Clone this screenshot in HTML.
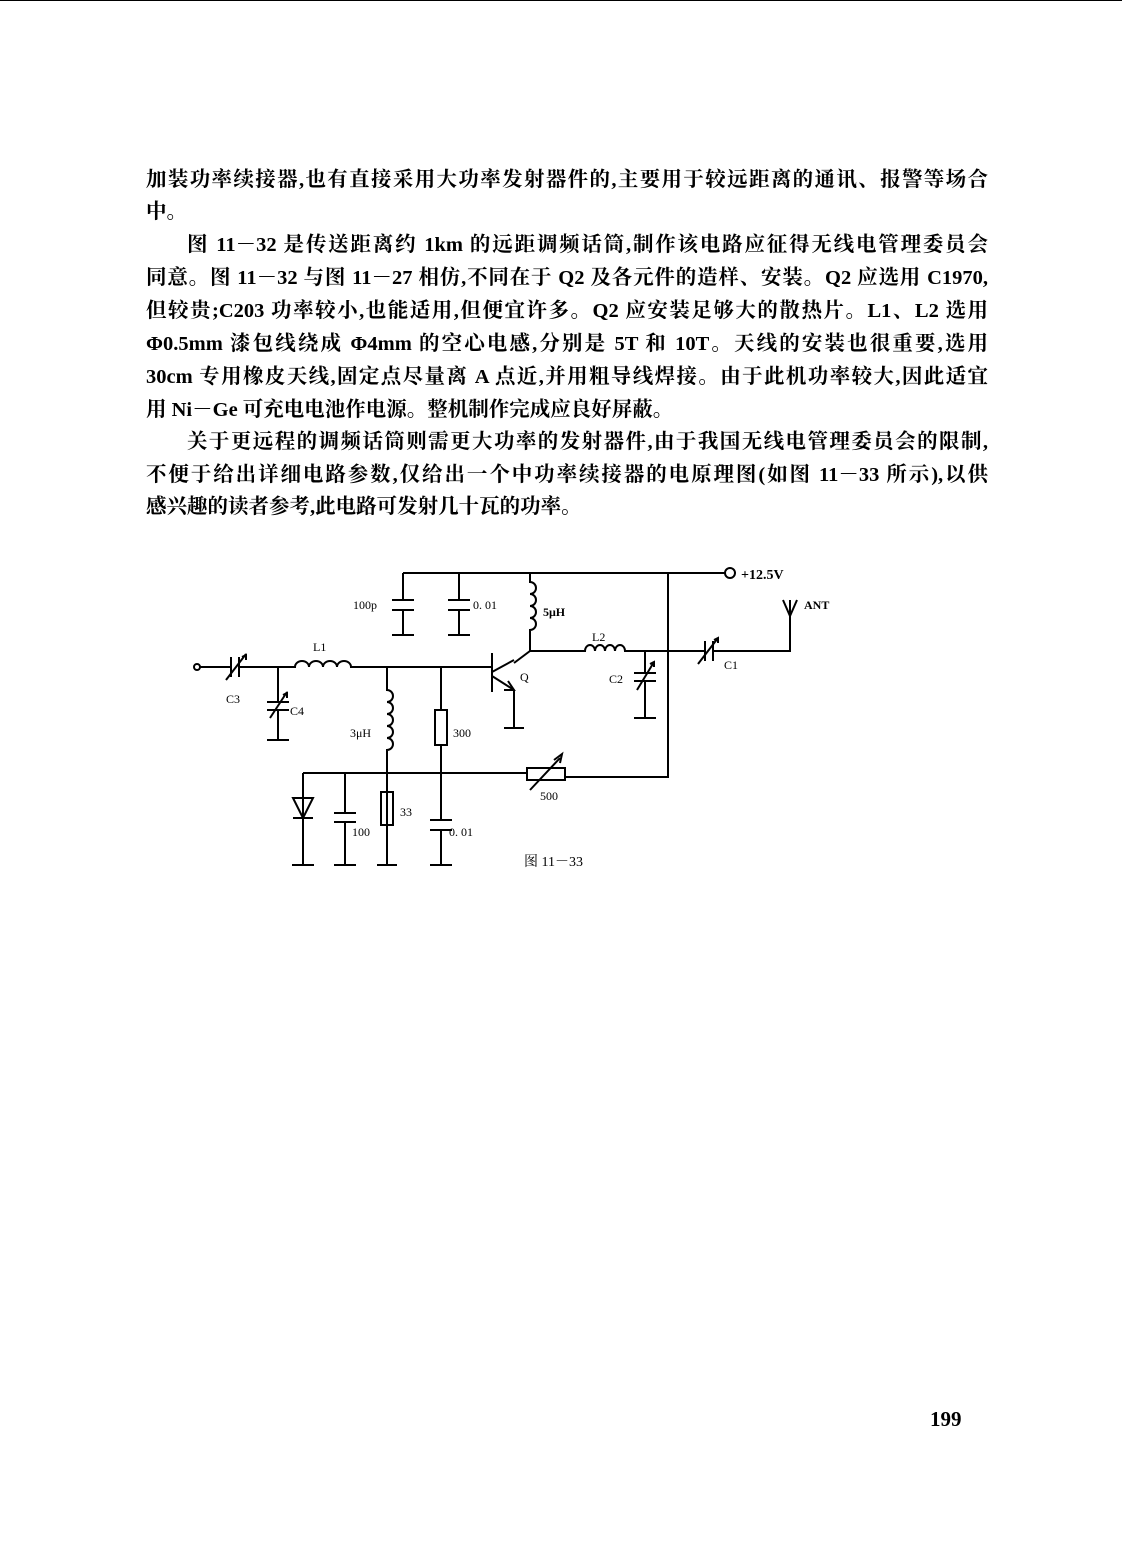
<!DOCTYPE html>
<html><head><meta charset="utf-8"><style>
body{margin:0;background:#fff;}
#p{position:relative;width:1122px;height:1568px;overflow:hidden;background:#fff;}
.l{position:absolute;left:146px;width:842px;font-family:"Liberation Serif","Noto Serif CJK SC","Noto Sans CJK SC",serif;font-size:20.5px;line-height:24px;color:#000;font-weight:bold;white-space:nowrap;text-align:justify;text-align-last:justify;}
.n{text-align-last:left;}
.i{left:187px;width:801px;}
svg text{font-family:"Liberation Serif",serif;fill:#000;}
</style></head><body><div id="p">
<div style="position:absolute;left:0;top:0;width:1122px;height:1px;background:#000"></div>
<div class="l" style="top:168px">加装功率续接器,也有直接采用大功率发射器件的,主要用于较远距离的通讯、报警等场合</div>
<div class="l n" style="top:200px">中。</div>
<div class="l i" style="top:233px">图 11－32 是传送距离约 1km 的远距调频话筒,制作该电路应征得无线电管理委员会</div>
<div class="l" style="top:266px">同意。图 11－32 与图 11－27 相仿,不同在于 Q2 及各元件的造样、安装。Q2 应选用 C1970,</div>
<div class="l" style="top:299px">但较贵;C203 功率较小,也能适用,但便宜许多。Q2 应安装足够大的散热片。L1、L2 选用</div>
<div class="l" style="top:332px">Φ0.5mm 漆包线绕成 Φ4mm 的空心电感,分别是 5T 和 10T。天线的安装也很重要,选用</div>
<div class="l" style="top:365px">30cm 专用橡皮天线,固定点尽量离 A 点近,并用粗导线焊接。由于此机功率较大,因此适宜</div>
<div class="l n" style="top:398px">用 Ni－Ge 可充电电池作电源。整机制作完成应良好屏蔽。</div>
<div class="l i" style="top:430px">关于更远程的调频话筒则需更大功率的发射器件,由于我国无线电管理委员会的限制,</div>
<div class="l" style="top:463px">不便于给出详细电路参数,仅给出一个中功率续接器的电原理图(如图 11－33 所示),以供</div>
<div class="l n" style="top:495px">感兴趣的读者参考,此电路可发射几十瓦的功率。</div>

<svg style="position:absolute;left:0;top:0" width="1122" height="1568" fill="none" stroke="#000" stroke-width="2">
<path d="M403 573H725"/><circle cx="730" cy="573" r="5"/>
<path d="M403 573V600M392 600H414M392 610H414M403 610V635M392 635H414"/>
<path d="M459 573V600M448 600H470M448 610H470M459 610V635M448 635H470"/>
<path d="M530 573V582 a6 6 0 0 1 0 12 a6 6 0 0 1 0 12 a6 6 0 0 1 0 12 a6 6 0 0 1 0 12 V651"/>
<path d="M668 573V777H565"/>
<path d="M514 663L530 651H585 a5 6 0 0 1 10 0 a5 6 0 0 1 10 0 a5 6 0 0 1 10 0 a5 6 0 0 1 10 0 H705M713 651H790V605"/>
<path d="M705 641V661M713 641V661M698 664L718 638M714 640l4-2 0 5"/>
<path d="M783 600l7 16 7-16M790 600V616"/>
<path d="M645 651V673M634 673H656M634 681H656M645 681V718M634 718H656M637 690L654 662M650 664l4-2 0 5"/>
<circle cx="197" cy="667" r="3"/>
<path d="M200 667H231M239 667H295 a7 6 0 0 1 14 0 a7 6 0 0 1 14 0 a7 6 0 0 1 14 0 a7 6 0 0 1 14 0 H492"/>
<path d="M231 657V677M239 657V677M226 680L246 654M242 657l4-2 0 5"/>
<path d="M278 667V702M267 702H289M267 710H289M278 710V740M267 740H289M270 718L287 692M283 695l4-2 0 5"/>
<path d="M492 653V692M492 672L514 660M492 676L514 690V728M504 728H524M508 681l6 9-10 0"/>
<path d="M387 667V690 a6 6 0 0 1 0 12 a6 6 0 0 1 0 12 a6 6 0 0 1 0 12 a6 6 0 0 1 0 12 a6 6 0 0 1 0 12 V865M377 865H397"/>
<path d="M441 667V710M441 745V820M430 820H452M430 830H452M441 830V865M430 865H452"/>
<rect x="435" y="710" width="12" height="35"/>
<rect x="381" y="792" width="12" height="33"/>
<path d="M303 773H527M303 773V865M292 865H314M293 798H313L303 818ZM293 818H313"/>
<path d="M345 773V813M334 813H356M334 822H356M345 822V865M334 865H356"/>
<rect x="527" y="768" width="38" height="12"/>
<path d="M530 790L560 758M554 760l8-6-2 9"/>
</svg>
<svg style="position:absolute;left:0;top:0" width="1122" height="1568">
<g style="font-size:12px">
<text x="353" y="609">100p</text><text x="473" y="609">0. 01</text>
<text x="543" y="616" font-weight="bold">5μH</text>
<text x="741" y="579" font-weight="bold" style="font-size:14px">+12.5V</text>
<text x="804" y="609" font-weight="bold">ANT</text>
<text x="592" y="641">L2</text><text x="609" y="683">C2</text>
<text x="724" y="669">C1</text><text x="313" y="651">L1</text>
<text x="226" y="703">C3</text><text x="290" y="715">C4</text>
<text x="520" y="681">Q</text><text x="350" y="737">3μH</text>
<text x="453" y="737">300</text><text x="540" y="800">500</text>
<text x="400" y="816">33</text><text x="352" y="836">100</text>
<text x="449" y="836">0. 01</text>
<text x="524" y="866" style="font-size:14px;font-family:'Liberation Serif','Noto Serif CJK SC',serif">图 11－33</text>
<text x="930" y="1426" font-weight="bold" style="font-size:21px">199</text>
</g></svg>
</div></body></html>
